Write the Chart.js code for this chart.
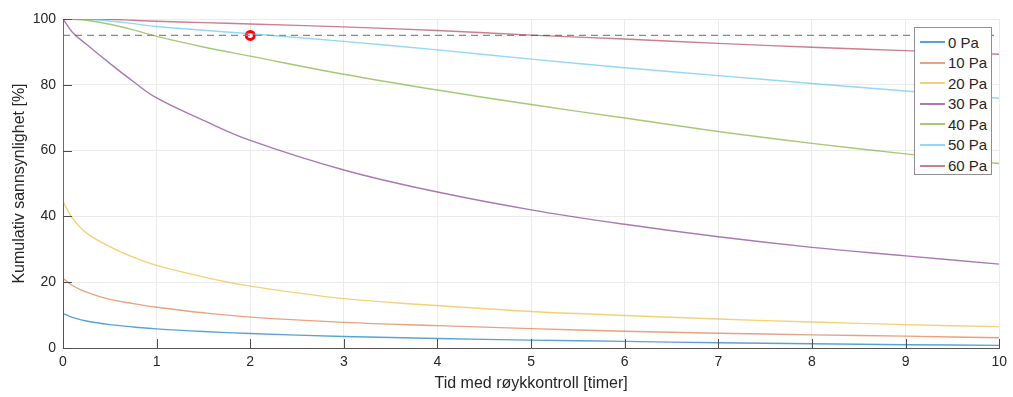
<!DOCTYPE html>
<html>
<head>
<meta charset="utf-8">
<script src="https://cdn.jsdelivr.net/npm/chart.js@4/dist/chart.umd.min.js"></script>
<style>
  body { margin: 0; background: #fff; }
  #wrap { position: relative; width: 1013px; height: 397px; }
  #legend {
    position: absolute; left: 914px; top: 27px; width: 78px; height: 148px;
    border: 1px solid #8f8f8f; background: #fff; box-sizing: border-box;
    font-family: "Liberation Sans", Arial, sans-serif; font-size: 15px; color: #262626;
    padding-top: 4px;
  }
  .row { display: flex; align-items: center; height: 20px; margin-bottom: 0.6px; }
  .swatch { display: inline-block; width: 25px; height: 2px; margin: 0 3px 0 5px; }
</style>
</head>
<body>
<div id="wrap">
  <canvas id="chart" width="1013" height="397"></canvas>
  <div id="legend"></div>
</div>
<script>
const times = [0, 0.1, 0.25, 0.5, 0.75, 1, 1.5, 2, 3, 4, 5, 6, 7, 8, 9, 10];

const seriesNames = ["0 Pa", "10 Pa", "20 Pa", "30 Pa", "40 Pa", "50 Pa", "60 Pa"];
const pa0  = [10.5, 9.3, 8.2, 7.1, 6.4, 5.8, 5.0, 4.4, 3.5, 2.9, 2.4, 2.0, 1.6, 1.3, 1.0, 0.8];
const pa10 = [21.2, 19.0, 17.0, 14.8, 13.5, 12.4, 10.7, 9.4, 7.8, 6.8, 5.9, 5.1, 4.5, 4.0, 3.6, 3.1];
const pa20 = [44.5, 39.5, 35.0, 30.8, 27.6, 25.1, 21.6, 18.8, 15.0, 12.9, 11.1, 9.9, 8.8, 7.9, 7.1, 6.5];
const pa30 = [100, 96.0, 92.3, 86.5, 81.0, 76.0, 69.2, 63.1, 54.1, 47.4, 42.0, 37.6, 33.8, 30.6, 28.0, 25.5];
const pa40 = [100, 99.9, 99.6, 98.4, 96.7, 94.7, 91.5, 88.7, 83.2, 78.4, 74.0, 69.9, 65.8, 62.2, 59.0, 56.1];
const pa50 = [100, 100, 99.9, 99.4, 98.6, 97.7, 96.6, 95.5, 93.2, 90.6, 87.8, 85.2, 82.8, 80.4, 78.1, 75.9];
const pa60 = [100, 100, 100, 99.9, 99.6, 99.3, 98.9, 98.5, 97.6, 96.5, 95.1, 93.9, 92.6, 91.4, 90.4, 89.3];
const seriesValues = [pa0, pa10, pa20, pa30, pa40, pa50, pa60];

// start level before smoke control kicks in
const startLevel = 100;
// 95 % limit and the marked point
const limitLevel = 95;
const markTime = 2;

const xTicks = [0, 1, 2, 3, 4, 5, 6, 7, 8, 9, 10];
const yTicks = [0, 20, 40, 60, 80, 100];

const colors = [
  "rgba(0,114,189,0.65)",
  "rgba(217,83,25,0.55)",
  "rgba(237,177,32,0.6)",
  "rgba(126,47,142,0.65)",
  "rgba(119,172,48,0.65)",
  "rgba(77,190,238,0.6)",
  "rgba(162,20,47,0.55)",
];

const datasets = [];
seriesNames.forEach(function (name, i) {
  const vals = seriesValues[i];
  // vertical drop at t=0
  if (vals[0] < startLevel) {
    datasets.push({
      data: [{ x: times[0], y: startLevel }, { x: times[0], y: vals[0] }],
      borderColor: colors[i], borderWidth: 1.4, pointRadius: 0, tension: 0,
    });
  }
  datasets.push({
    label: name,
    data: times.map(function (t, k) { return { x: t, y: vals[k] }; }),
    borderColor: colors[i], borderWidth: 1.4, pointRadius: 0,
    tension: 0.4,
  });
});

datasets.push({
  data: [{ x: xTicks[0], y: limitLevel }, { x: xTicks[xTicks.length - 1], y: limitLevel }],
  borderColor: "#8a8a8a", borderWidth: 1.3, borderDash: [7, 5], pointRadius: 0,
});
datasets.push({
  data: [{ x: markTime, y: limitLevel }],
  showLine: false, pointRadius: 4, pointBorderWidth: 3,
  pointBorderColor: "#ff0000", pointBackgroundColor: "#ffffff",
});

const font = { family: "'Liberation Sans', Arial, sans-serif", size: 14 };
const titleFont = { family: font.family, size: 16 };

const innerTicks = {
  id: "innerTicks",
  afterDraw(chart) {
    const ctx = chart.ctx;
    const xs = chart.scales.x, ys = chart.scales.y;
    const a = chart.chartArea;
    ctx.save();
    ctx.strokeStyle = "#4d4d4d";
    ctx.lineWidth = 1;
    ctx.beginPath();
    xTicks.forEach(function (v) {
      const px = Math.round(xs.getPixelForValue(v)) + 0.5;
      ctx.moveTo(px, a.bottom);
      ctx.lineTo(px, a.bottom - 9);
    });
    yTicks.forEach(function (v) {
      const py = Math.round(ys.getPixelForValue(v)) + 0.5;
      ctx.moveTo(a.left, py);
      ctx.lineTo(a.left + 9, py);
    });
    ctx.stroke();
    ctx.restore();
  },
};

new Chart(document.getElementById("chart"), {
  type: "line",
  data: { datasets: datasets },
  options: {
    responsive: false,
    animation: false,
    layout: { padding: { top: 19, right: 13, left: 0, bottom: 0 } },
    plugins: { legend: { display: false }, tooltip: { enabled: false } },
    scales: {
      x: {
        type: "linear", min: 0, max: 10,
        afterBuildTicks: function (s) { s.ticks = xTicks.map(function (v) { return { value: v }; }); },
        afterFit: function (s) { s.height = 49; },
        ticks: { font: font, color: "#262626", padding: 6 },
        grid: { color: "#ebebeb", drawTicks: false },
        border: { color: "#555555", width: 1 },
        title: { display: true, text: "Tid med røykkontroll [timer]", font: titleFont, color: "#262626", padding: { top: 4, bottom: 4 } },
      },
      y: {
        min: 0, max: 100,
        afterBuildTicks: function (s) { s.ticks = yTicks.map(function (v) { return { value: v }; }); },
        afterFit: function (s) { s.width = 63; },
        ticks: { font: font, color: "#262626", padding: 7 },
        grid: { color: "#ebebeb", drawTicks: false },
        border: { color: "#555555", width: 1 },
        title: { display: true, text: "Kumulativ sannsynlighet [%]", font: titleFont, color: "#262626", padding: { top: 10, bottom: 4 } },
      },
    },
  },
  plugins: [innerTicks],
});

const legend = document.getElementById("legend");
seriesNames.forEach(function (name, i) {
  const row = document.createElement("div");
  row.className = "row";
  const sw = document.createElement("span");
  sw.className = "swatch";
  sw.style.backgroundColor = colors[i];
  const label = document.createElement("span");
  label.textContent = name;
  row.appendChild(sw);
  row.appendChild(label);
  legend.appendChild(row);
});
</script>
</body>
</html>
